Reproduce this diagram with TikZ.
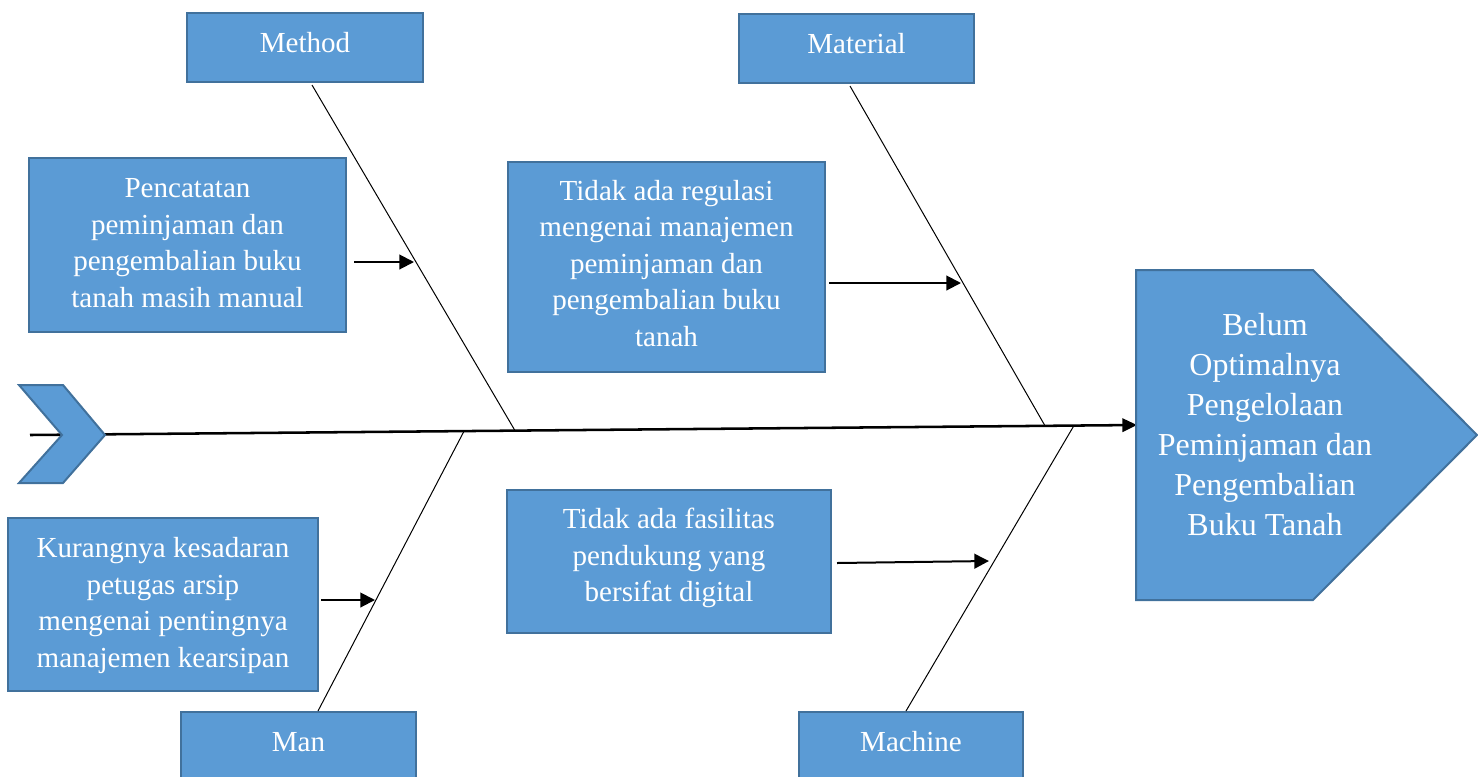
\documentclass[tikz,border=0pt]{standalone}
\usepackage{fontspec}
\setmainfont{Liberation Serif}
\usetikzlibrary{calc}
\usetikzlibrary{arrows.meta}

\definecolor{boxfill}{RGB}{91,155,213}
\definecolor{boxline}{RGB}{65,113,156}

\tikzset{
  fishbox/.style={draw=boxline,fill=boxfill,line width=1.5pt,text=white,align=center,
    inner sep=0pt,font=\fontsize{21.8}{27.4}\selectfont},
  catbox/.style={fishbox,minimum height=51.75pt,text height=15pt,text depth=8pt},
  bone/.style={line width=0.75pt},
  cause/.style={line width=1.5pt,-{Triangle[length=11pt,width=11pt]}},
  spine/.style={line width=1.9pt,-{Triangle[length=11pt,width=10pt]}}
}

\begin{document}
\begin{tikzpicture}[x=0.75pt,y=0.75pt,yscale=-1,xscale=1]
\useasboundingbox (0,0) rectangle (1478,776);

%Straight Lines (spine, drawn under the tail)
\coordinate (tail) at (30,435);
\coordinate (headW) at (1137,425);
\draw [spine] (tail) -- (headW);

%Shape: Chevron (tail)
\draw [draw=boxline,fill=boxfill,line width=1.5pt] (19,385) -- (63,385) -- (105,435) -- (63,483) -- (19,483) -- (62,435) -- cycle;

%Shape: Pentagon (head)
\draw [draw=boxline,fill=boxfill,line width=1.5pt] (1136,270) -- (1313,270) -- (1477,435) -- (1313,600) -- (1136,600) -- cycle;
% Text Node
\node (head) at (1265,425) [text=white,align=center,font=\fontsize{24}{30}\selectfont]
  {Belum\\Optimalnya\\Pengelolaan\\Peminjaman dan\\Pengembalian\\Buku Tanah};

% Category boxes
\node (method) at (305,47.5) [catbox,minimum width=177pt] {Method};
\node (material) at (856.5,48.5) [catbox,minimum width=176.25pt] {Material};
\node (man) at (298.5,746.5) [catbox,minimum width=176.25pt] {Man};
\node (machine) at (911,746.5) [catbox,minimum width=168pt] {Machine};

% Cause boxes
\node (pencatatan) at (187.5,245) [fishbox,minimum width=237.75pt,minimum height=130.5pt,text depth=3pt]
  {Pencatatan\\peminjaman dan\\pengembalian buku\\tanah masih manual};
\node (regulasi) at (666.5,267) [fishbox,minimum width=237.75pt,minimum height=157.5pt,text depth=6pt]
  {Tidak ada regulasi\\mengenai manajemen\\peminjaman dan\\pengembalian buku\\tanah};
\node (fasilitas) at (669,561.5) [fishbox,minimum width=243pt,minimum height=107.25pt,text depth=9.9pt]
  {Tidak ada fasilitas\\pendukung yang\\bersifat digital};
\node (kurangnya) at (163,604.5) [fishbox,minimum width=232.5pt,minimum height=129.75pt,text depth=3.3pt]
  {Kurangnya kesadaran\\petugas arsip\\mengenai pentingnya\\manajemen kearsipan};

% Bones
\coordinate (methodEnd) at (515,430.6);
\coordinate (materialEnd) at (1045,425.8);
\coordinate (manEnd) at (464,431.2);
\coordinate (machineEnd) at (1074,425.5);
\draw [bone] ($(method.south)+(7,2)$) -- (methodEnd);
\draw [bone] ($(material.south)+(-6.5,2)$) -- (materialEnd);
\draw [bone] ($(man.north)+(19.5,0)$) -- (manEnd);
\draw [bone] ($(machine.north)+(-5,0)$) -- (machineEnd);

% Cause arrows
\coordinate (pencatatanTip) at (414,262);
\coordinate (regulasiTip) at (961,283);
\coordinate (kurangnyaTip) at (375,600);
\coordinate (fasilitasTip) at (989,561);
\draw [cause] ($(pencatatan.east)+(7,17)$) -- (pencatatanTip);
\draw [cause] ($(regulasi.east)+(3,16)$) -- (regulasiTip);
\draw [cause] ($(kurangnya.east)+(2,-4.5)$) -- (kurangnyaTip);
\draw [cause] ($(fasilitas.east)+(5,1.5)$) -- (fasilitasTip);

\end{tikzpicture}
\end{document}
